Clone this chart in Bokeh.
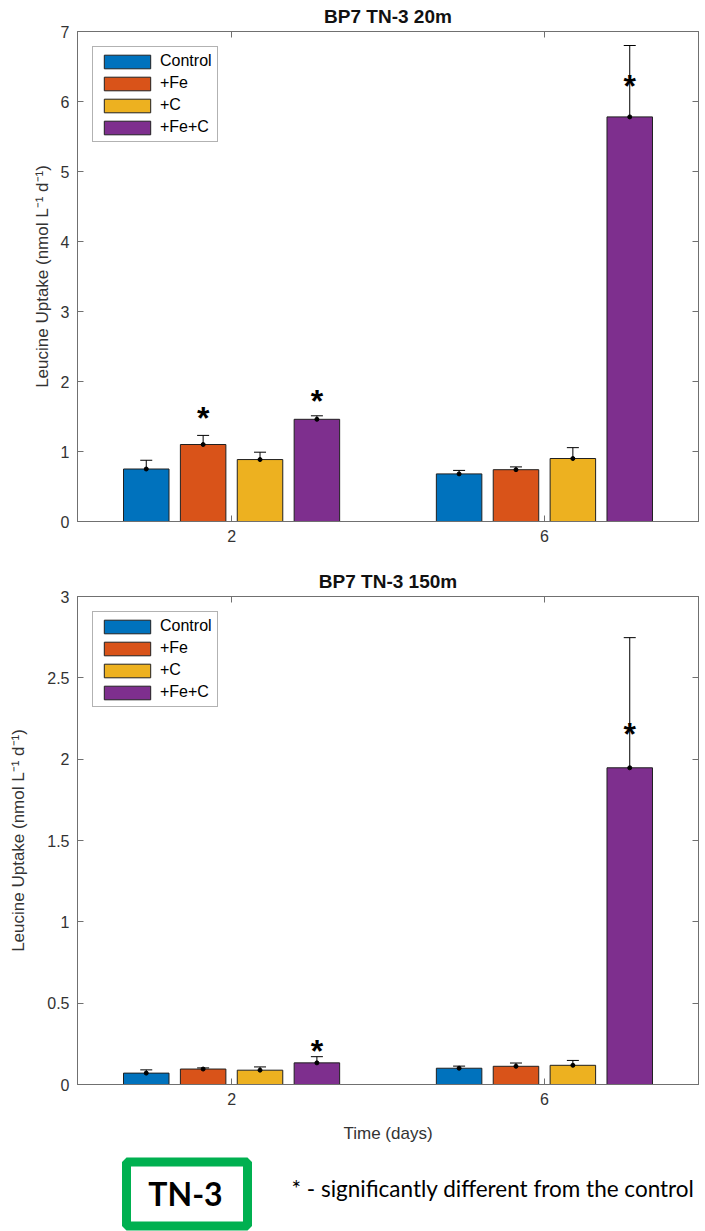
from bokeh.plotting import figure
from bokeh.models import (Range1d, FixedTicker, LinearAxis, Whisker, TeeHead,
                          ColumnDataSource, Legend, LegendItem, CustomLabelingPolicy)
from bokeh.layouts import column
from bokeh.embed import file_html
from bokeh.resources import INLINE
from bokeh.core.properties import value

# ---------------- data ----------------
days = [2, 6]
day_labels = ["2", "6"]
treatments = ["Control", "+Fe", "+C", "+Fe+C"]
colors = ["#0072BD", "#D95319", "#EDB120", "#7E2F8E"]

# BP7 TN-3 20m
top_control = [0.75, 0.68]
top_fe = [1.10, 0.74]
top_c = [0.885, 0.90]
top_fec = [1.46, 5.78]
top_control_err = [0.125, 0.05]
top_fe_err = [0.13, 0.04]
top_c_err = [0.105, 0.155]
top_fec_err = [0.05, 1.02]
top_star_day = [2, 2, 6]
top_star_trt = ["+Fe", "+Fe+C", "+Fe+C"]
top_star_y = [1.54, 1.78, 6.28]

# BP7 TN-3 150m
bot_control = [0.07, 0.10]
bot_fe = [0.095, 0.112]
bot_c = [0.088, 0.118]
bot_fec = [0.133, 1.947]
bot_control_err = [0.02, 0.013]
bot_fe_err = [0.007, 0.02]
bot_c_err = [0.02, 0.03]
bot_fec_err = [0.038, 0.80]
bot_star_day = [2, 6]
bot_star_trt = ["+Fe+C", "+Fe+C"]
bot_star_y = [0.229, 2.18]

top_yticks = [0, 1, 2, 3, 4, 5, 6, 7]
bot_yticks = [0, 0.5, 1, 1.5, 2, 2.5, 3]

FONT = "Liberation Sans"
AX = "#707070"
TXT = "#333333"

# MATLAB grouped-bar geometry (4 series, group spacing 4)
n = len(treatments)
spacing = days[1] - days[0]
group_w = min(0.8, n / (n + 1.5)) * spacing
slot = group_w / n
bar_w = 0.8 * slot
offsets = [(i - (n - 1) / 2) * slot for i in range(n)]

HIDE_LABELS = "for (const i of Array.from(indices)) indices.unset(i); return indices"


def tick_only_axis(ticks):
    return LinearAxis(ticker=FixedTicker(ticks=ticks),
                      major_label_policy=CustomLabelingPolicy(code=HIDE_LABELS),
                      major_label_text_font_size="1px", major_label_standoff=0,
                      major_tick_in=6, major_tick_out=0, minor_tick_in=0,
                      minor_tick_out=0, axis_line_color=AX, major_tick_line_color=AX)


def panel(title, means, errs, star_day, star_trt, star_y, ymax, yticks,
          height, btop, bbottom, xlabel, ylabel_standoff):
    p = figure(width=705, height=height, x_range=Range1d(0.03, 7.97),
               y_range=Range1d(0, ymax), output_backend="svg",
               toolbar_location=None, min_border_left=77, min_border_right=7,
               min_border_top=btop, min_border_bottom=bbottom)
    p.xgrid.grid_line_color = None
    p.ygrid.grid_line_color = None
    p.outline_line_color = AX
    p.background_fill_color = "white"

    p.title.text = title
    p.title.align = "center"
    p.title.text_font = FONT
    p.title.text_font_style = "bold"
    p.title.text_font_size = "19px"
    p.title.text_color = "#111111"
    p.title.standoff = 2

    items = []
    for i, (name, m, e) in enumerate(zip(treatments, means, errs)):
        xs = [d + offsets[i] for d in days]
        src = ColumnDataSource(dict(x=xs, top=m,
                                    upper=[a + b for a, b in zip(m, e)],
                                    lower=[a - b for a, b in zip(m, e)]))
        r = p.vbar(x="x", top="top", bottom=0, width=bar_w, source=src,
                   fill_color=colors[i], line_color="#202020", line_width=1)
        items.append(LegendItem(label=name, renderers=[r]))
        p.add_layout(Whisker(base="x", upper="upper", lower="lower", source=src,
                             line_color="black", line_width=1,
                             upper_head=TeeHead(size=12, line_color="black", line_width=1),
                             lower_head=TeeHead(size=12, line_color="black", line_width=1)))
        p.scatter(x="x", y="top", source=src, size=4, color="black")

    sx = [d + offsets[treatments.index(t)] for d, t in zip(star_day, star_trt)]
    p.text(x=sx, y=star_y, text=["*"] * len(sx), text_align="center",
           text_baseline="middle", text_font=value(FONT), text_font_style="bold",
           text_font_size="32px", text_color="black", y_offset=4)

    legend = Legend(items=items, location="top_left", margin=15, padding=5,
                    spacing=4, glyph_width=58, glyph_height=17, label_standoff=4,
                    label_height=17, label_text_font=FONT,
                    label_text_font_size="16px", label_text_color="black",
                    border_line_color="#666666", border_line_width=1,
                    background_fill_color="white", background_fill_alpha=1)
    p.add_layout(legend)

    # axes
    xa = p.xaxis[0]
    xa.ticker = FixedTicker(ticks=days)
    xa.major_label_overrides = {d: s for d, s in zip(days, day_labels)}
    ya = p.yaxis[0]
    ya.ticker = FixedTicker(ticks=yticks)
    ya.major_label_overrides = {t: f"{t:g}" for t in yticks}
    ya.axis_label = "Leucine Uptake (nmol L\u207b\u00b9 d\u207b\u00b9)"
    ya.axis_label_standoff = ylabel_standoff
    if xlabel:
        xa.axis_label = xlabel
        xa.axis_label_standoff = 16
    for a in (xa, ya):
        a.major_tick_in = 6
        a.major_tick_out = 0
        a.minor_tick_in = 0
        a.minor_tick_out = 0
        a.axis_line_color = AX
        a.major_tick_line_color = AX
        a.major_label_text_font = FONT
        a.major_label_text_font_size = "16px"
        a.major_label_text_color = TXT
        a.major_label_standoff = 8
        a.axis_label_text_font = FONT
        a.axis_label_text_font_size = "17px"
        a.axis_label_text_font_style = "normal"
        a.axis_label_text_color = TXT

    p.add_layout(tick_only_axis(yticks), "right")
    p.add_layout(tick_only_axis(days), "above")
    return p


p1 = panel("BP7 TN-3 20m",
           [top_control, top_fe, top_c, top_fec],
           [top_control_err, top_fe_err, top_c_err, top_fec_err],
           top_star_day, top_star_trt, top_star_y, 7, top_yticks,
           560, 31, 39, None, 6)
p2 = panel("BP7 TN-3 150m",
           [bot_control, bot_fe, bot_c, bot_fec],
           [bot_control_err, bot_fe_err, bot_c_err, bot_fec_err],
           bot_star_day, bot_star_trt, bot_star_y, 3, bot_yticks,
           585, 36, 60, "Time (days)", 16)

# footer with site box and note (frame aligned with the panels above: 77..698 px)
p3 = figure(width=705, height=86, x_range=Range1d(77, 698), y_range=Range1d(1231, 1145),
            output_backend="svg", toolbar_location=None, min_border=0,
            min_border_left=77, min_border_right=7,
            x_axis_location=None, y_axis_location=None)
p3.grid.visible = False
p3.outline_line_color = None
p3.quad(left=[126], right=[247], top=[1161.5], bottom=[1225.5],
        fill_color=None, line_color="#00B050", line_width=9)
p3.text(x=[185], y=[1193], text=["TN-3"], text_align="center", text_baseline="middle",
        text_font=value("Lato"), text_font_style="bold", text_font_size="32px",
        text_color="black")
p3.text(x=[291], y=[1188], text=["* - significantly different from the control"],
        text_align="left", text_baseline="middle", text_font=value("Lato"),
        text_font_size="22.5px", text_color="black")

layout = column(p1, p2, p3, spacing=0)
open("out.html", "w").write(file_html(layout, INLINE))
